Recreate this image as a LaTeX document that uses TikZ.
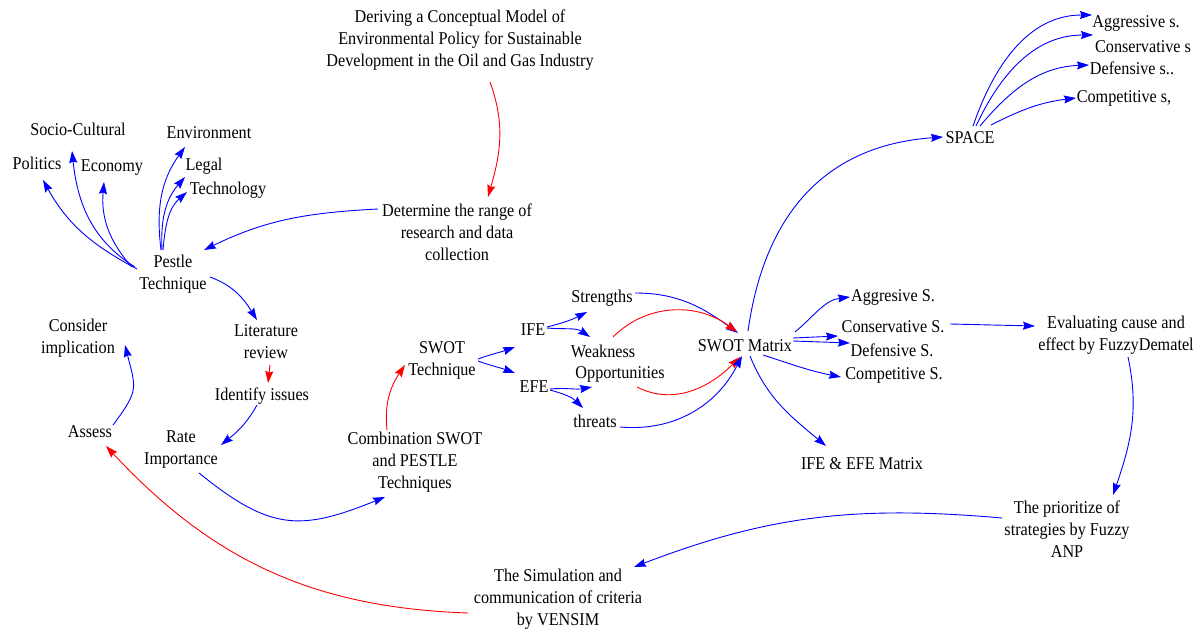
\documentclass[tikz,border=0pt]{standalone}
\usepackage{fontspec}
\setmainfont{Liberation Serif}[FakeStretch=0.9]
\usetikzlibrary{arrows.meta}
\begin{document}
\begin{tikzpicture}[x=1pt,y=1pt,
  lbl/.style={align=center, inner sep=2.5pt, font=\fontsize{18}{22}\selectfont},
  conn/.style={line width=0.9pt, -{Stealth[length=12pt,width=8pt,inset=1.5pt]}},
  bluelink/.style={conn, blue},
  redlink/.style={conn, red}]
\fill[white] (0,0) rectangle (1202,-634);
\useasboundingbox (0,0) rectangle (1202,-634);

% ---- labels ----
\node[lbl] (deriv) at (460,-40) {Deriving a Conceptual Model of\\Environmental Policy for Sustainable\\Development in the Oil and Gas Industry};
\node[lbl] (determ) at (457,-232) {Determine the range of\\research and data\\collection};
\node[lbl] (socio) at (78,-129) {Socio-Cultural};
\node[lbl] (politics) at (37,-163) {Politics};
\node[lbl] (economy) at (112,-168) {Economy};
\node[lbl] (environ) at (209,-133) {Environment};
\node[lbl] (legal) at (204,-166) {Legal};
\node[lbl] (tech) at (228,-190) {Technology};
\node[lbl] (pestle) at (173,-274) {Pestle\\Technique};
\node[lbl] (lit) at (266,-342) {Literature\\review};
\node[lbl] (identify) at (262,-396) {Identify issues};
\node[lbl] (rate) at (181,-450) {Rate\\Importance};
\node[lbl] (consider) at (78,-338) {Consider\\implication};
\node[lbl] (assess) at (90,-432) {Assess};
\node[lbl] (swottech) at (442,-360) {SWOT\\Technique};
\node[lbl] (combo) at (415,-462) {Combination SWOT\\and PESTLE\\Techniques};
\node[lbl] (ife) at (533,-330) {IFE};
\node[lbl] (efe) at (534,-387) {EFE};
\node[lbl] (strengths) at (602,-298) {Strengths};
\node[lbl] (weakness) at (603,-351) {Weakness};
\node[lbl] (opps) at (620,-374) {Opportunities};
\node[lbl] (threats) at (595,-421) {threats};
\node[lbl] (swotm) at (745,-346) {SWOT Matrix};
\node[lbl] (aggS) at (893,-297) {Aggresive S.};
\node[lbl] (consS) at (893,-327) {Conservative S.};
\node[lbl] (defS) at (892,-350) {Defensive S.};
\node[lbl] (compS) at (894,-375) {Competitive S.};
\node[lbl] (ifeefe) at (862,-464) {IFE \& EFE Matrix};
\node[lbl] (evalu) at (1116,-335) {Evaluating cause and\\effect by FuzzyDematel};
\node[lbl] (prior) at (1067,-529) {The prioritize of\\strategies by Fuzzy\\ANP};
\node[lbl] (simul) at (558,-599) {The Simulation and\\communication of criteria\\by VENSIM};
\node[lbl] (space) at (970,-138) {SPACE};
\node[lbl] (aggs) at (1136,-23) {Aggressive s.};
\node[lbl] (conss) at (1143,-47) {Conservative s};
\node[lbl] (defs) at (1132,-68) {Defensive s..};
\node[lbl] (comps) at (1124,-98) {Competitive s,};

% ---- connectors ----
\draw[redlink] ([shift={(30,-42)}]deriv.center) to[out=-70,in=74] ([shift={(31,35)}]determ.center);
\draw[bluelink] ([shift={(-79,23)}]determ.center) to[out=183,in=26] ([shift={(31,24)}]pestle.center);

\draw[bluelink] ([shift={(-36,5)}]pestle.center) to[out=152,in=-61] ([shift={(6,-17)}]politics.center);
\draw[bluelink] ([shift={(-38,7)}]pestle.center) to[out=148,in=-84] ([shift={(-6,-22)}]socio.center);
\draw[bluelink] ([shift={(-41,7)}]pestle.center) to[out=132,in=-95] ([shift={(-8,-14)}]economy.center);
\draw[bluelink] ([shift={(-12,24)}]pestle.center) to[out=97,in=-126] ([shift={(-24,-14)}]environ.center);
\draw[bluelink] ([shift={(-11,24)}]pestle.center) to[out=93,in=-131] ([shift={(-19,-11)}]legal.center);
\draw[bluelink] ([shift={(-10,24)}]pestle.center) to[out=85,in=-139] ([shift={(-41,-2)}]tech.center);

\draw[bluelink] ([shift={(37,-3)}]pestle.center) to[out=-20,in=122] ([shift={(-9,22)}]lit.center);
\draw[redlink] ([shift={(4,-23)}]lit.center) -- ([shift={(6,13)}]identify.center);
\draw[bluelink] ([shift={(-5,-9)}]identify.center) to[out=241,in=39] ([shift={(40,5)}]rate.center);
\draw[bluelink] ([shift={(18,-23)}]rate.center) to[out=-39,in=202,looseness=1.25] ([shift={(-30,-35)}]combo.center);
\draw[redlink] ([shift={(-28,32)}]combo.center) to[out=96,in=-124] ([shift={(-37,-5)}]swottech.center);

\draw[bluelink] ([shift={(23,7)}]assess.center) to[out=53,in=-76,looseness=1.4] ([shift={(47,-7)}]consider.center);
\draw[redlink] ([shift={(-90,-14)}]simul.center) to[out=178,in=-47] ([shift={(16,-14)}]assess.center);

\draw[bluelink] ([shift={(36,1)}]swottech.center) to[out=20,in=200] ([shift={(-18,-17)}]ife.center);
\draw[bluelink] ([shift={(36,-1)}]swottech.center) to[out=-20,in=160] ([shift={(-19,14)}]efe.center);
\draw[bluelink] ([shift={(14,3)}]ife.center) to[out=14,in=207] ([shift={(-15,-14)}]strengths.center);
\draw[bluelink] ([shift={(14,2)}]ife.center) to[out=-5,in=146] ([shift={(-13,14)}]weakness.center);
\draw[bluelink] ([shift={(16,-2)}]efe.center) to[out=5,in=190] ([shift={(-28,-13)}]opps.center);
\draw[bluelink] ([shift={(16,-3)}]efe.center) to[out=-15,in=135] ([shift={(-12,13)}]threats.center);

\draw[bluelink] ([shift={(33,5)}]strengths.center) to[out=0,in=144] ([shift={(-7,13)}]swotm.center);
\draw[redlink] ([shift={(10,14)}]weakness.center) to[out=45,in=143] ([shift={(-8,14)}]swotm.center);
\draw[redlink] ([shift={(17,-13)}]opps.center) to[out=-27,in=225] ([shift={(-5,-11)}]swotm.center);
\draw[bluelink] ([shift={(25,-6)}]threats.center) to[out=-5,in=243] ([shift={(-3,-10)}]swotm.center);

\draw[bluelink] ([shift={(3,15)}]swotm.center) to[out=82,in=184,looseness=1.1] ([shift={(-27,1)}]space.center);
\draw[bluelink] ([shift={(50,14)}]swotm.center) to[out=40,in=187] ([shift={(-43,0)}]aggS.center);
\draw[bluelink] ([shift={(48,8)}]swotm.center) -- ([shift={(-55,-9)}]consS.center);
\draw[bluelink] ([shift={(48,5)}]swotm.center) -- ([shift={(-42,7)}]defS.center);
\draw[bluelink] ([shift={(18,-9)}]swotm.center) to[out=-18,in=169] ([shift={(-53,-2)}]compS.center);
\draw[bluelink] ([shift={(5,-10)}]swotm.center) to[out=-68,in=140] ([shift={(-36,18)}]ifeefe.center);

\draw[bluelink] ([shift={(57,3)}]consS.center) -- ([shift={(-81,9)}]evalu.center);
\draw[bluelink] ([shift={(12,-22)}]evalu.center) to[out=-78,in=71] ([shift={(46,34)}]prior.center);
\draw[bluelink] ([shift={(-65,11)}]prior.center) to[out=175,in=21] ([shift={(76,32)}]simul.center);

\draw[bluelink] ([shift={(3,12)}]space.center) to[out=71,in=180] ([shift={(-44,8)}]aggs.center);
\draw[bluelink] ([shift={(6,12)}]space.center) to[out=65,in=180] ([shift={(-50,12)}]conss.center);
\draw[bluelink] ([shift={(10,12)}]space.center) to[out=50,in=182] ([shift={(-43,3)}]defs.center);
\draw[bluelink] ([shift={(21,13)}]space.center) to[out=27,in=187] ([shift={(-48,0)}]comps.center);
\end{tikzpicture}
\end{document}
